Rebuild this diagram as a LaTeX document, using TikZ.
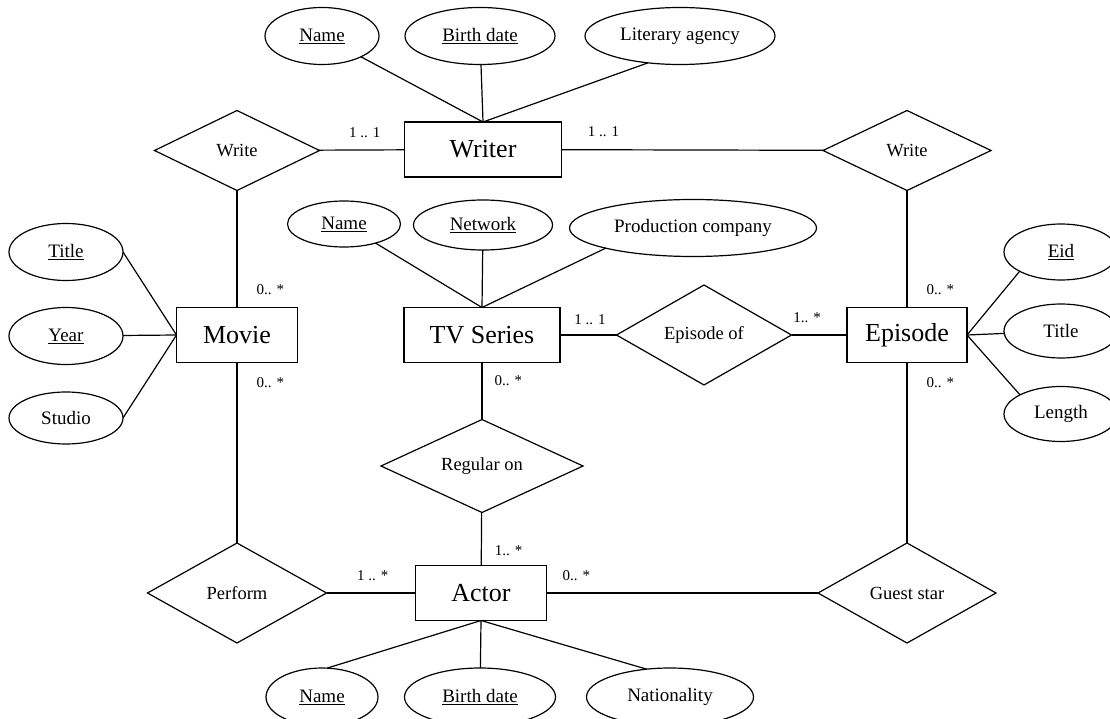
\documentclass[tikz,border=0pt]{standalone}
\usepackage{fontspec}
\setmainfont{Liberation Serif}
\usetikzlibrary{shapes.geometric, positioning}
\tikzset{x=1pt, y=-1pt,
entity/.style={draw, line width=1.4pt, rectangle, minimum height=55pt, inner sep=0pt, outer sep=0pt, font=\fontsize{26}{30}\selectfont},
relation/.style={draw, diamond, aspect=2, inner sep=0pt, outer sep=0pt, font=\fontsize{18.5}{22}\selectfont},
attr/.style={draw, ellipse, inner sep=0pt, outer sep=0pt, font=\fontsize{19}{22}\selectfont},
mult/.style={inner sep=0pt, font=\fontsize{15}{18}\selectfont},
}
\newcommand{\keyattr}[1]{\underline{#1}}

\begin{document}
\begin{tikzpicture}[line width=1.2pt]
    \useasboundingbox (0,0) rectangle (1110,719);

    % entities
    \node[entity, minimum width=157pt] (writer) at (483,149.5) {Writer};
    \node[entity, minimum width=121pt] (movie) at (237,335) {Movie};
    \node[entity, minimum width=156pt] (tv) at (482,335) {TV Series};
    \node[entity, minimum width=120pt] (episode) at (907,335) {Episode};
    \node[entity, minimum width=131pt] (actor) at (481,593) {Actor};

    % relationships
    \node[relation, minimum width=165pt, minimum height=80pt] (write1) at (237,150.5) {Write};
    \node[relation, minimum width=168pt, minimum height=80pt] (write2) at (907,150.5) {Write};
    \node[relation, minimum width=175pt, minimum height=100pt] (epof) at (704,335) {Episode of};
    \node[relation, minimum width=202pt, minimum height=93pt] (regular) at (482,466) {Regular on};
    \node[relation, minimum width=179pt, minimum height=100pt] (perform) at (237,593) {Perform};
    \node[relation, minimum width=178pt, minimum height=100pt] (guest) at (907,593) {Guest star};

    % attributes
    \node[attr, minimum width=114pt, minimum height=57pt] (wname) at (322,36) {\keyattr{Name}};
    \node[attr, minimum width=150pt, minimum height=57pt] (wbirth) at (480,36) {\keyattr{Birth date}};
    \node[attr, minimum width=190pt, minimum height=57pt] (wagency) at (680,36) {Literary agency};

    \node[attr, minimum width=114pt, minimum height=57pt] (mtitle) at (66,252) {\keyattr{Title}};
    \node[attr, minimum width=114pt, minimum height=57pt] (myear) at (66,336) {\keyattr{Year}};
    \node[attr, minimum width=114pt, minimum height=52pt] (mstudio) at (66,418) {Studio};

    \node[attr, minimum width=113pt, minimum height=46pt] (tname) at (344,224) {\keyattr{Name}};
    \node[attr, minimum width=139pt, minimum height=50pt] (tnet) at (483,225) {\keyattr{Network}};
    \node[attr, minimum width=247pt, minimum height=57pt] (tprod) at (693,228) {Production company};

    \node[attr, minimum width=114pt, minimum height=56pt] (eeid) at (1061,252) {\keyattr{Eid}};
    \node[attr, minimum width=114pt, minimum height=54pt] (etitle) at (1061,331) {Title};
    \node[attr, minimum width=114pt, minimum height=55pt] (elength) at (1061,414) {Length};

    \node[attr, minimum width=112pt, minimum height=58pt] (aname) at (322,697) {\keyattr{Name}};
    \node[attr, minimum width=151pt, minimum height=58pt] (abirth) at (480,697) {\keyattr{Birth date}};
    \node[attr, minimum width=167pt, minimum height=58pt] (anat) at (670,697) {Nationality};

    % relationship lines
    \draw
    (write1) edge node[mult, pos=.535, above=12pt]{1 .. 1} (writer)
    (writer) edge node[mult, pos=.16, above=12pt]{1 .. 1} (write2)
    (write1) edge node[mult, pos=.85, right=19pt]{0.. *} (movie)
    (movie) edge node[mult, pos=.114, right=19pt]{0.. *} (perform)
    (perform) edge node[mult, pos=.52, above=12pt]{1 .. *} (actor)
    (actor) edge node[mult, pos=.11, above=12pt]{0.. *} (guest)
    (tv) edge node[mult, pos=.31, right=12pt]{0.. *} (regular)
    (regular) edge node[mult, pos=.73, right=13pt]{1.. *} (actor)
    (tv) edge node[mult, pos=.53, above=10pt]{1 .. 1} (epof)
    (epof) edge node[mult, pos=.28, above=12pt]{1.. *} (episode)
    (write2) edge node[mult, pos=.85, right=19pt]{0.. *} (episode)
    (episode) edge node[mult, pos=.114, right=19pt]{0.. *} (guest)
    ;

    % attribute lines
    \draw (wname) -- (writer.north);
    \draw (wbirth) -- (writer.north);
    \draw (wagency.220) -- (writer.north);
    \draw (mtitle.east) -- (movie.west);
    \draw (myear) -- (movie.west);
    \draw (mstudio.east) -- (movie.west);
    \draw (tname) -- (tv.north);
    \draw (tnet) -- (tv.north);
    \draw (tprod.193) -- (tv.north);
    \draw (eeid.205) -- (episode.east);
    \draw (etitle) -- (episode.east);
    \draw (elength.155) -- (episode.east);
    \draw (aname.80) -- (actor.south);
    \draw (abirth) -- (actor.south);
    \draw (anat.130) -- (actor.south);
\end{tikzpicture}
\end{document}
